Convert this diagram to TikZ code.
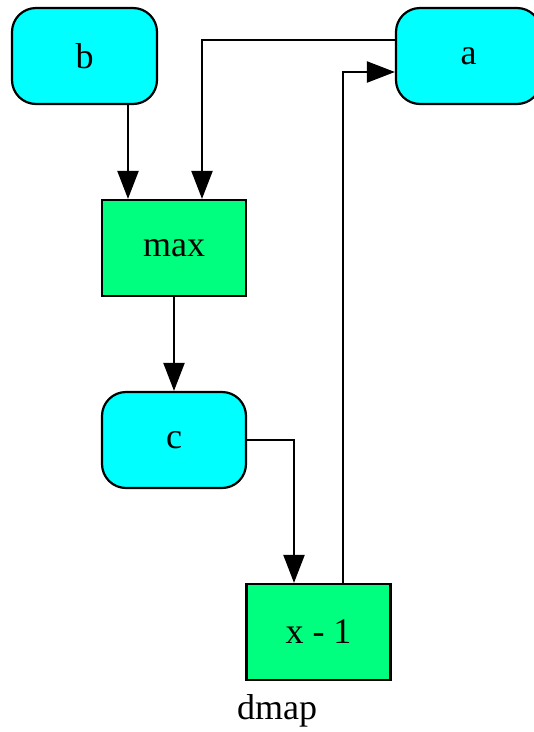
\documentclass[tikz,border=0pt]{standalone}
\usepackage{fontspec}
\setmainfont{Liberation Serif}
\usetikzlibrary{arrows.meta}
\definecolor{nodecyan}{HTML}{00FFFF}
\definecolor{opgreen}{HTML}{00FF7F}
\tikzset{
  varbox/.style={draw=black,fill=nodecyan,line width=2.2pt,rounded corners=24pt,
                 minimum width=145pt,minimum height=96pt,inner sep=0pt,
                 font=\fontsize{36}{42}\selectfont},
  opbox/.style={draw=black,fill=opgreen,line width=2.2pt,
                minimum width=144pt,minimum height=96pt,inner sep=0pt,
                font=\fontsize{36}{42}\selectfont},
  flow/.style={-{Triangle[length=28pt,width=21pt]},line width=2.2pt,draw=black}
}
\begin{document}
\begin{tikzpicture}[x=1pt,y=-1pt]
    \useasboundingbox (0,0) rectangle (534,732);
    \node[varbox] (b) at (84.5,56) {b};
    \node[varbox] (a) at (468.5,56) {a};
    \node[opbox] (max) at (174,248) {max};
    \node[varbox,minimum width=144pt] (c) at (174,440) {c};
    \node[opbox] (dec) at (318.5,632) {x - 1};
    \node[font=\fontsize{36}{42}\selectfont] (title) at (277,711) {dmap};

    \coordinate (tob) at (128,200);
    \draw[flow] (b.south -| tob) -- (max.north -| tob);
    \coordinate (toa) at (202,40);
    \draw[flow] (a.west |- toa) -- (toa) -- (max.north -| toa);
    \draw[flow] (max) -- (c);
    \coordinate (toc) at (294,440);
    \draw[flow] (c.east) -- (toc) -- (dec.north -| toc);
    \coordinate (upx) at (343,72);
    \draw[flow] (dec.north -| upx) -- (upx) -- (a.west |- upx);
\end{tikzpicture}
\end{document}
